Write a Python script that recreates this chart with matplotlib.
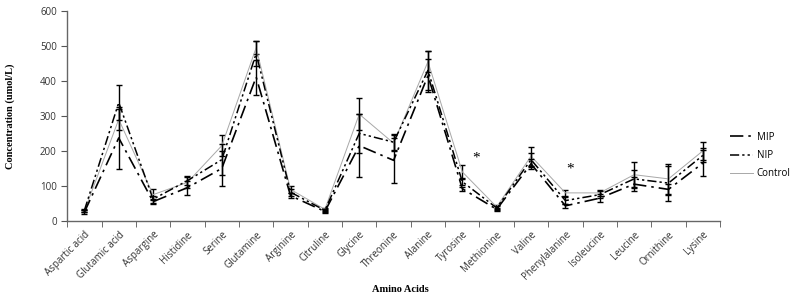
import numpy as np
import matplotlib.pyplot as plt

amino_acids = ["Aspartic acid", "Glutamic acid", "Aspargine", "Histidine", "Serine",
               "Glutamine", "Arginine", "Citruline", "Glycine", "Threonine", "Alanine",
               "Tyrosine", "Methionine", "Valine", "Phenylalanine", "Isoleucine",
               "Leucine", "Ornithine", "Lysine"]

mip = [25, 237, 55, 95, 150, 411, 72, 27, 215, 173, 415, 92, 33, 163, 43, 65, 105, 90, 165]
mip_err = [5, 88, 8, 20, 50, 50, 8, 5, 90, 65, 48, 6, 4, 15, 6, 12, 20, 15, 37]

nip = [30, 338, 62, 115, 175, 478, 82, 30, 250, 225, 430, 112, 37, 175, 58, 75, 120, 108, 187]
nip_err = [5, 50, 10, 12, 45, 35, 10, 5, 55, 22, 55, 10, 5, 20, 10, 10, 25, 50, 20]

control = [28, 290, 75, 110, 215, 495, 90, 33, 305, 222, 455, 140, 40, 185, 80, 80, 132, 120, 200]
control_err = [4, 30, 15, 15, 30, 18, 10, 4, 45, 22, 30, 20, 5, 27, 8, 8, 36, 42, 25]

# positions of the significance stars (x in category units, y in umol/L)
star_x = [11.4, 14.15]
star_y = [180, 148]

x = np.arange(len(amino_acids))

fig = plt.figure(figsize=(8, 3.03), dpi=100)
ax = fig.add_axes([0.084, 0.271, 0.816, 0.693])

ax.errorbar(x, control, yerr=control_err, color='#a8a8a8', lw=0.7, ecolor='black',
            elinewidth=1.0, capsize=2.5, capthick=1.0, label='Control', zorder=2)
ax.errorbar(x, nip, yerr=nip_err, color='black', lw=1.1, ls=(0, (6, 2, 1.5, 2, 1.5, 2)),
            ecolor='black', elinewidth=1.0, capsize=2.5, capthick=1.0, label='NIP', zorder=3)
ax.errorbar(x, mip, yerr=mip_err, color='black', lw=1.2, ls=(0, (8, 3, 1.5, 3)),
            ecolor='black', elinewidth=1.0, capsize=2.5, capthick=1.0, label='MIP', zorder=4)

for sx, sy in zip(star_x, star_y):
    ax.text(sx, sy, "*", ha='center', va='center', fontsize=11, family='Liberation Serif')

ax.set_xlim(-0.5, len(amino_acids) - 0.5)
ax.set_ylim(0, 600)
ax.set_yticks(np.arange(0, 601, 100))

ax.set_xticks(x)
ax.set_xticklabels(amino_acids, rotation=45, ha='right', rotation_mode='anchor',
                   fontsize=7, family='Open Sans', color='#333333')
ax.tick_params(axis='x', which='major', length=0, pad=6)
ax.set_xticks(np.arange(-0.5, len(amino_acids)), minor=True)
ax.tick_params(axis='x', which='minor', length=4, direction='out', color='#555555')
ax.tick_params(axis='y', length=4, direction='out', color='#555555', labelsize=7,
               labelcolor='#333333')
for lab in ax.get_yticklabels():
    lab.set_family('Open Sans')

for side in ['top', 'right']:
    ax.spines[side].set_visible(False)
for side in ['left', 'bottom']:
    ax.spines[side].set_color('#666666')
    ax.spines[side].set_linewidth(1.0)

ax.set_ylabel("Concentration (umol/L)", fontsize=7.5, family='Liberation Serif',
              fontweight='bold')
ax.yaxis.set_label_coords(-0.08, 0.5)
fig.text(0.5, 0.045, "Amino Acids", ha='center', va='center', fontsize=7.5,
         family='Liberation Serif', fontweight='bold')

handles, labels = ax.get_legend_handles_labels()
order = [2, 1, 0]
leg = fig.legend([handles[i][0] for i in order], [labels[i] for i in order],
                 loc='center left', bbox_to_anchor=(0.912, 0.487), frameon=False,
                 handlelength=2.4, handletextpad=0.4, labelspacing=0.75,
                 borderaxespad=0, borderpad=0,
                 prop={'family': 'Open Sans', 'size': 7})

plt.savefig("out.png", dpi=100)
